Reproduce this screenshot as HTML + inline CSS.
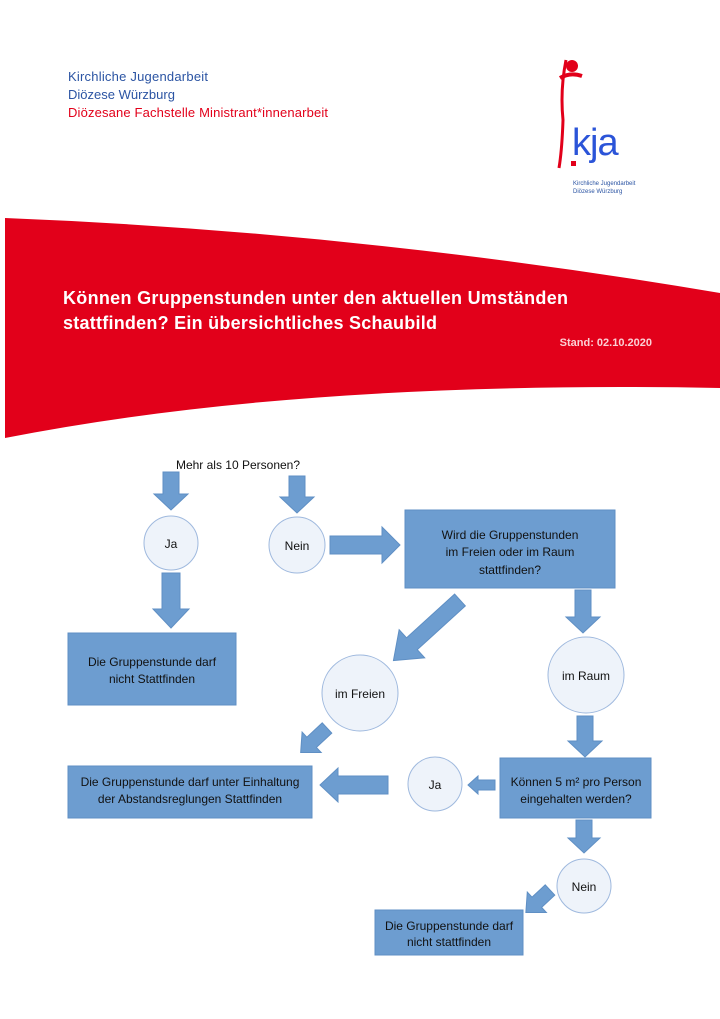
<!DOCTYPE html>
<html><head><meta charset="utf-8"><style>
html,body{margin:0;padding:0;background:#fff;}
body{width:720px;height:1019px;overflow:hidden;position:relative;font-family:"Liberation Sans",sans-serif;}
svg{position:absolute;left:0;top:0;}
</style></head><body>
<svg width="720" height="1019" viewBox="0 0 720 1019" xmlns="http://www.w3.org/2000/svg" font-family="Liberation Sans, sans-serif">
<text x="68" y="81" font-size="13" fill="#2b54a3" textLength="140">Kirchliche Jugendarbeit</text>
<text x="68" y="99" font-size="13" fill="#2b54a3">Diözese Würzburg</text>
<text x="68" y="117" font-size="13" fill="#e2001a" textLength="260">Diözesane Fachstelle Ministrant*innenarbeit</text>
<g fill="#e2001a" stroke="#e2001a">
<circle cx="572" cy="66" r="6" stroke="none"/>
<path d="M560,78 Q570,72 582,76" stroke-width="4" fill="none"/>
<path d="M566,60 Q560,90 563,120 Q562,150 559,168" stroke-width="3" fill="none"/>
<rect x="571" y="161" width="5" height="5" stroke="none"/>
</g>
<text x="572" y="155" font-size="38" fill="#2b54d8" letter-spacing="-1">kja</text>
<text x="573" y="185" font-size="6" fill="#2b54a3">Kirchliche Jugendarbeit</text>
<text x="573" y="193" font-size="6" fill="#2b54a3">Diözese Würzburg</text>
<path d="M5,218 Q360,232 720,293 L720,388 Q300,380 5,438 Z" fill="#e2001a"/>
<text x="63" y="304" font-size="18" font-weight="bold" fill="#fff" textLength="505">Können Gruppenstunden unter den aktuellen Umständen</text>
<text x="63" y="329" font-size="18" font-weight="bold" fill="#fff" textLength="374">stattfinden? Ein übersichtliches Schaubild</text>
<text x="652" y="346" font-size="11" font-weight="bold" fill="#fbd0d5" text-anchor="end">Stand: 02.10.2020</text>
<text x="238" y="469" font-size="12" fill="#111" text-anchor="middle">Mehr als 10 Personen?</text>
<g fill="#6d9dd0" stroke="#5f8fc4" stroke-width="1">
<rect x="405" y="510" width="210" height="78"/>
<rect x="68" y="633" width="168" height="72"/>
<rect x="500" y="758" width="151" height="60"/>
<rect x="68" y="766" width="244" height="52"/>
<rect x="375" y="910" width="148" height="45"/>
<g transform="translate(171,472) rotate(90)"><polygon points="0,-8 22,-8 22,-17 38,0 22,17 22,8 0,8"/></g>
<g transform="translate(297,476) rotate(90)"><polygon points="0,-8 21,-8 21,-17 37,0 21,17 21,8 0,8"/></g>
<g transform="translate(171,573) rotate(90)"><polygon points="0,-9 36,-9 36,-18 55,0 36,18 36,9 0,9"/></g>
<g transform="translate(330,545)"><polygon points="0,-9 52,-9 52,-18 70,0 52,18 52,9 0,9"/></g>
<g transform="translate(460,600) rotate(137.7)"><polygon points="0,-8 65,-8 65,-19 90,0 65,19 65,8 0,8"/></g>
<g transform="translate(583,590) rotate(90)"><polygon points="0,-8 27,-8 27,-17 43,0 27,17 27,8 0,8"/></g>
<g transform="translate(585,716) rotate(90)"><polygon points="0,-8 25,-8 25,-17 41,0 25,17 25,8 0,8"/></g>
<g transform="translate(495,785) rotate(180)"><polygon points="0,-5 17,-5 17,-9 27,0 17,9 17,5 0,5"/></g>
<g transform="translate(388,785) rotate(180)"><polygon points="0,-9 50,-9 50,-17 68,0 50,17 50,9 0,9"/></g>
<g transform="translate(327,728) rotate(137)"><polygon points="0,-7 21,-7 21,-14 36,0 21,14 21,7 0,7"/></g>
<g transform="translate(584,820) rotate(90)"><polygon points="0,-8 18,-8 18,-16 33,0 18,16 18,8 0,8"/></g>
<g transform="translate(550,890) rotate(137)"><polygon points="0,-7 18,-7 18,-14 33,0 18,14 18,7 0,7"/></g>
</g>
<g fill="#eef3fa" stroke="#9fb9de" stroke-width="1">
<circle cx="171" cy="543" r="27"/>
<circle cx="297" cy="545" r="28"/>
<circle cx="360" cy="693" r="38"/>
<circle cx="586" cy="675" r="38"/>
<circle cx="435" cy="784" r="27"/>
<circle cx="584" cy="886" r="27"/>
</g>
<g font-size="12" fill="#111" text-anchor="middle">
<text x="171" y="548">Ja</text>
<text x="297" y="550">Nein</text>
<text x="360" y="698">im Freien</text>
<text x="586" y="680">im Raum</text>
<text x="435" y="789">Ja</text>
<text x="584" y="891">Nein</text>
<text x="510" y="539">Wird die Gruppenstunden</text>
<text x="510" y="556">im Freien oder im Raum</text>
<text x="510" y="574">stattfinden?</text>
<text x="152" y="666">Die Gruppenstunde darf</text>
<text x="152" y="683">nicht Stattfinden</text>
<text x="576" y="786">Können 5 m² pro Person</text>
<text x="576" y="803">eingehalten werden?</text>
<text x="190" y="786">Die Gruppenstunde darf unter Einhaltung</text>
<text x="190" y="803">der Abstandsreglungen Stattfinden</text>
<text x="449" y="930">Die Gruppenstunde darf</text>
<text x="449" y="946">nicht stattfinden</text>
</g>
</svg>
</body></html>
